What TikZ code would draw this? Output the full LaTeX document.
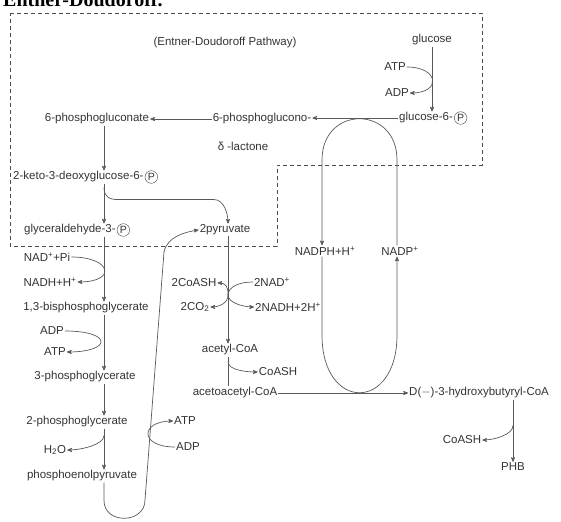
\documentclass[tikz,border=0pt]{standalone}
\usepackage{fontspec}
\setmainfont{Liberation Sans}
\newfontfamily\headfont{Liberation Serif}
\usetikzlibrary{arrows,positioning,calc}

\tikzset{
    lbl/.style={font=\fontsize{11.5}{13}\selectfont, text=black!80, inner sep=1pt},
    pbox/.style={draw=black!75, circle, inner sep=0.9pt, font=\fontsize{10.5}{11}\selectfont, text=black!80},
    rxn/.style={draw=black!65, line width=0.7pt},
    tip/.style={rxn, ->, >=stealth'},
    edbox/.style={draw=black!70, line width=0.8pt, dash pattern=on 4pt off 3pt},
}

\begin{document}
\begin{tikzpicture}[x=1pt,y=-1pt]
    \useasboundingbox (0,0) rectangle (561,521);
    \node[font=\headfont\bfseries\fontsize{20}{20}\selectfont, anchor=base west, inner sep=0] (head) at (3,7) {Entner-Doudoroff.};
    % the pathway box
    \draw[edbox] (10,13) -- (482,13) -- (482,165) -- (277,165) -- (277,246) -- (10,246) -- cycle;

    \coordinate (colL) at (104,0);
    \coordinate (colM) at (228,0);
    \coordinate (colR) at (513,0);
    \coordinate (lk) at (322,0);
    \coordinate (rk) at (397,0);

    \node[lbl] (edp) at (225,43) {(Entner-Doudoroff Pathway)};
    \node[lbl] (glc) at (432,40) {glucose};
    \node[lbl] (atp1) at (395,67) {ATP};
    \node[lbl] (adp1) at (397,93) {ADP};
    \node[lbl, anchor=west] (g6p) at (398,118) {glucose-6-};
    \node[pbox, right=0pt of g6p] (g6pP) {P};
    \node[lbl] (lac) at (262,119) {6-phosphoglucono-};
    \node[lbl] (lac2) at (243,146) {δ -lactone};
    \node[lbl] (pgn) at (97,119) {6-phosphogluconate};
    \node[lbl, anchor=west] (kdpg) at (12,177) {2-keto-3-deoxyglucose-6-};
    \node[pbox, right=0pt of kdpg] (kdpgP) {P};
    \node[lbl, anchor=west] (gap) at (23,230) {glyceraldehyde-3-};
    \node[pbox, right=0pt of gap] (gapP) {P};
    \node[lbl] (pyr) at (225,230) {2pyruvate};

    \node[lbl] (nadpi) at (47,257) {NAD\textsuperscript{+}+Pi};
    \node[lbl] (nadh) at (50,282) {NADH+H\textsuperscript{+}};
    \node[lbl] (bpg) at (86,308) {1,3-bisphosphoglycerate};
    \node[lbl] (adp2) at (52,331) {ADP};
    \node[lbl] (atp2) at (55,352) {ATP};
    \node[lbl] (pg3) at (85,377) {3-phosphoglycerate};
    \node[lbl] (pg2) at (77,422) {2-phosphoglycerate};
    \node[lbl] (h2o) at (55,450) {H\textsubscript{2}O};
    \node[lbl] (pep) at (82,476) {phosphoenolpyruvate};
    \node[lbl] (atp3) at (185,421) {ATP};
    \node[lbl] (adp3) at (188,447) {ADP};

    \node[lbl] (coash1) at (194,283) {2CoASH};
    \node[lbl] (nad2) at (272,282) {2NAD\textsuperscript{+}};
    \node[lbl] (co2) at (195,307) {2CO\textsubscript{2}};
    \node[lbl] (nadh2) at (288,307) {2NADH+2H\textsuperscript{+}};
    \node[lbl] (acoa) at (230,350) {acetyl-CoA};
    \node[lbl] (coash2) at (278,372) {CoASH};
    \node[lbl] (aacoa) at (235,393) {acetoacetyl-CoA};
    \node[lbl] (nadph) at (325,251) {NADPH+H\textsuperscript{+}};
    \node[lbl] (nadp) at (400,251) {NADP\textsuperscript{+}};
    \node[lbl, anchor=west] (hbcoa) at (408,393) {D($-$)-3-hydroxybutyryl-CoA};
    \node[lbl] (coash3) at (462,440) {CoASH};
    \node[lbl] (phb) at (513,467) {PHB};

    % Entner-Doudoroff part
    \draw[tip] (glc.south) -- (glc.south |- g6p.north);
    \draw[tip] (atp1.east) .. controls +(32,0) and +(32,0) .. (adp1.east);
    \draw[tip] (g6p.west) -- (g6p.west -| lac.east);
    \draw[tip] (lac.west) -- (pgn.east);
    \draw[tip] (pgn.south -| colL) -- (kdpg.north -| colL);
    \draw[tip] (kdpg.south -| colL) -- (gap.north -| colL);
    \coordinate (kb) at ($(kdpg.south -| colL)+(0,4)$);
    \draw[tip] (kb) .. controls +(0,9) and +(-9,0) .. ($(kb)+(14,12)$)
        -- ($(colM |- kb)+(-14,12)$) .. controls +(10,0) and +(0,-10) .. (pyr.north -| colM);

    % glycolysis part
    \draw[tip] (gap.south -| colL) -- (bpg.north -| colL);
    \draw[tip] (nadpi.east) .. controls +(40,0) and +(40,0) .. (nadh.east);
    \draw[tip] (bpg.south -| colL) -- (pg3.north -| colL);
    \draw[tip] (adp2.east) .. controls +(48,0) and +(45,0) .. (atp2.east);
    \draw[tip] (pg3.south -| colL) -- (pg2.north -| colL);
    \draw[tip] (pg2.south -| colL) -- (pep.north -| colL);
    \draw[tip] ($(pg2.south -| colL)+(0,7)$) .. controls +(0,9) and +(14,0) .. (h2o.east);
    \coordinate (lb) at (145,500);
    \coordinate (lt) at (164,252);
    \draw[tip] (pep.south -| colL) -- ++(0,18) .. controls +(0,24) and +(0,24) .. (lb)
        -- (lt) .. controls +(3,-15) and +(-14,2) .. (pyr.west);
    \draw[tip] (adp3.west) .. controls +(-36,0) and +(-33,0) .. (atp3.west);

    % pyruvate to PHB
    \draw[tip] (pyr.south -| colM) -- (acoa.north -| colM);
    \coordinate (mj) at (228,295);
    \draw[tip] (mj) .. controls +(0,-8) and +(9,0) .. (coash1.east);
    \draw[rxn] (nad2.west) .. controls +(-14,0) and +(0,-8) .. (mj);
    \draw[tip] (mj) .. controls +(0,8) and +(9,0) .. (co2.east);
    \draw[tip] (mj) .. controls +(0,8) and +(-10,0) .. (nadh2.west);
    \draw[rxn] (acoa.south -| colM) -- (aacoa.north -| colM);
    \draw[tip] ($(acoa.south -| colM)+(0,5)$) .. controls +(0,9) and +(-10,0) .. (coash2.west);
    \draw[tip] (aacoa.east) -- (hbcoa.west);
    \draw[tip] (hbcoa.south -| colR) -- (phb.north);
    \draw[tip] ($(hbcoa.south -| colR)+(0,26)$) .. controls +(0,9) and +(12,0) .. (coash3.east);

    % NADPH cycle
    \draw[tip] (nadp.north -| rk) -- (397,160) .. controls (397,105) and (322,105) .. (322,160) -- (nadph.north -| lk);
    \draw[tip] (nadph.south -| lk) -- (322,335) .. controls (322,412) and (397,412) .. (397,335) -- (nadp.south -| rk);
\end{tikzpicture}
\end{document}
